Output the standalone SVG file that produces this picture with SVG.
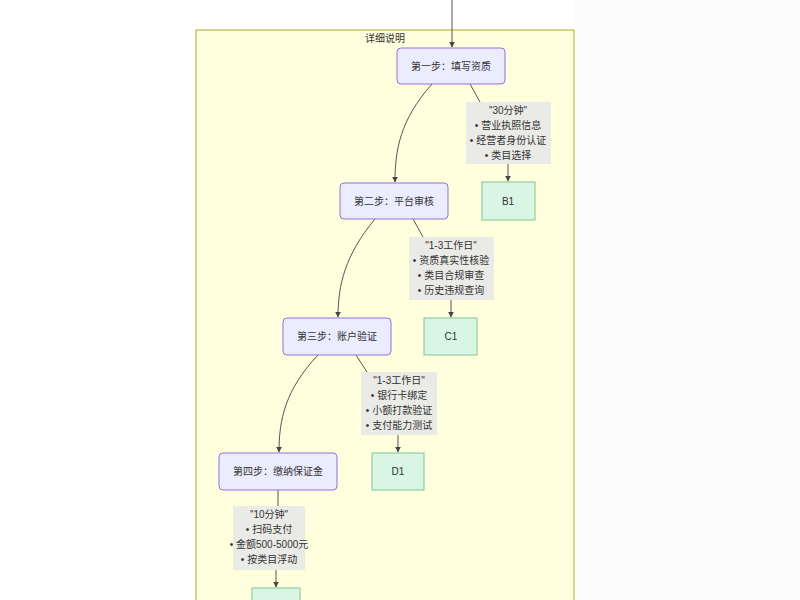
<svg xmlns="http://www.w3.org/2000/svg" width="800" height="600" viewBox="0 0 800 600">
<style>
text{font-family:"Liberation Sans","Noto Sans CJK SC",sans-serif;font-size:10px;fill:#333;text-anchor:middle}
.step{fill:#ececff;stroke:#9370db;stroke-width:1}
.leaf{fill:#d9f5e3;stroke:#8fd0a0;stroke-width:1.2}
.lbl{fill:#e8e8e8;opacity:0.9}
.edge{fill:none;stroke:#555;stroke-width:1;marker-end:url(#arr)}
.seg{fill:none;stroke:#555;stroke-width:1}
</style>
<defs><marker id="arr" viewBox="0 0 10 10" refX="9" refY="5" markerWidth="6" markerHeight="6" orient="auto"><path d="M0,0L10,5L0,10z" fill="#444"/></marker></defs>
<rect width="800" height="600" fill="#fff"/>
<rect x="575" y="0" width="225" height="600" fill="#fbfbfb"/>
<g id="cluster"><rect x="196" y="30" width="378" height="580" fill="#ffffde" stroke="#aaaa33" stroke-width="1"/><text x="385" y="42">详细说明</text></g>
<g id="connectors">
<path class="edge" d="M452,0V47"/>
<path class="edge" d="M432,84C400,120 395,150 395,182"/>
<path class="seg" d="M470,84L480,102"/>
<path class="edge" d="M508,164V181"/>
<path class="edge" d="M375,219C345,255 338,285 338,317"/>
<path class="seg" d="M413,219L423,237"/>
<path class="edge" d="M451,300V317"/>
<path class="edge" d="M318,355C285,390 279,420 279,452"/>
<path class="seg" d="M356,355L367,372"/>
<path class="edge" d="M398,435V452"/>
<path class="seg" d="M278,490V506"/>
<path class="edge" d="M276,570V587"/>
</g>
<g id="l1"><rect class="lbl" x="466" y="102" width="85" height="62"/><text x="508" y="114">"30分钟"</text><text x="508" y="129">• 营业执照信息</text><text x="508" y="144">• 经营者身份认证</text><text x="508" y="159">• 类目选择</text></g>
<g id="l2"><rect class="lbl" x="409" y="237" width="85" height="63"/><text x="451" y="249">"1-3工作日"</text><text x="451" y="264">• 资质真实性核验</text><text x="451" y="279">• 类目合规审查</text><text x="451" y="294">• 历史违规查询</text></g>
<g id="l3"><rect class="lbl" x="361" y="372" width="76" height="63"/><text x="399" y="384">"1-3工作日"</text><text x="399" y="399">• 银行卡绑定</text><text x="399" y="414">• 小额打款验证</text><text x="399" y="429">• 支付能力测试</text></g>
<g id="l4"><rect class="lbl" x="233" y="506" width="72" height="64"/><text x="269" y="518">"10分钟"</text><text x="269" y="533">• 扫码支付</text><text x="269" y="548">• 金额500-5000元</text><text x="269" y="563">• 按类目浮动</text></g>
<g id="n1"><rect class="step" x="397" y="48" width="108" height="36" rx="4"/><text x="451" y="70">第一步：填写资质</text></g>
<g id="n2"><rect class="step" x="340" y="183" width="108" height="36" rx="4"/><text x="394" y="205">第二步：平台审核</text></g>
<g id="n3"><rect class="step" x="283" y="318" width="108" height="37" rx="4"/><text x="337" y="340">第三步：账户验证</text></g>
<g id="n4"><rect class="step" x="219" y="453" width="118" height="37" rx="4"/><text x="278" y="475">第四步：缴纳保证金</text></g>
<g id="b1"><rect class="leaf" x="482" y="182" width="53" height="38"/><text x="508" y="205">B1</text></g>
<g id="c1"><rect class="leaf" x="424" y="318" width="53" height="37"/><text x="451" y="340">C1</text></g>
<g id="d1"><rect class="leaf" x="372" y="453" width="52" height="37"/><text x="398" y="475">D1</text></g>
<g id="e1"><rect class="leaf" x="252" y="588" width="48" height="30"/></g>
</svg>
